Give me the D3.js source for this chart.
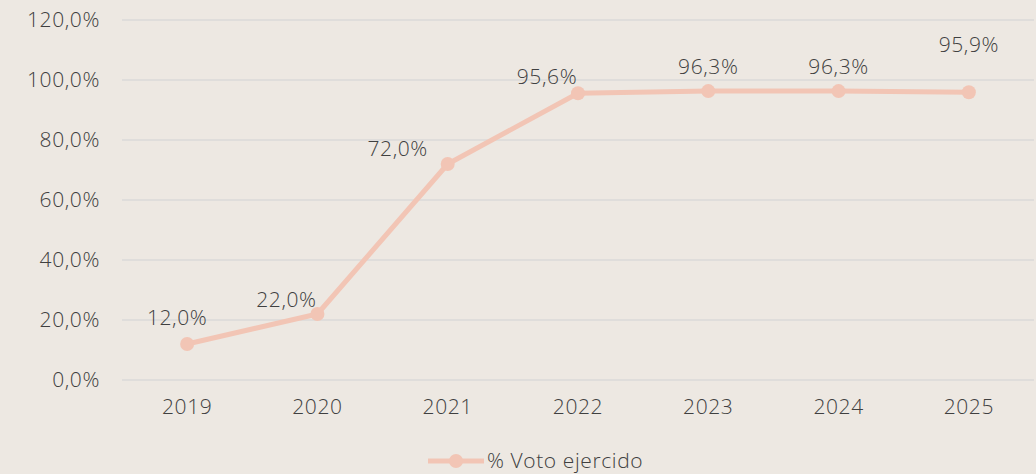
<!DOCTYPE html>
<html><head><meta charset="utf-8">
<script src="https://cdn.jsdelivr.net/npm/d3@7"></script>
<style>
html,body{margin:0;padding:0;background:#ede8e2;}
svg{display:block;}
text{font-family:"Open Sans","Noto Sans",sans-serif;font-weight:300;fill:#404040;letter-spacing:0.6px;}
</style></head>
<body><svg id="c" width="1036" height="474"></svg>
<script>
const years = ["2019","2020","2021","2022","2023","2024","2025"];
const votoEjercido = [12.0, 22.0, 72.0, 95.6, 96.3, 96.3, 95.9];
const yTicks = [0,20,40,60,80,100,120];
const seriesName = "% Voto ejercido";
// label offsets (dx, dy) relative to each point
const labelDx = [-10,-31,-50,-31,0,0,0];
const labelDy = [-25,-13,-14,-15,-23,-23,-46];

const svg = d3.select("#c");
const W = 1036, H = 474;
const m = {left:122, right:2, top:20, bottom:94};
const x = d3.scaleBand().domain(years).range([m.left, W - m.right]).padding(0);
const y = d3.scaleLinear().domain([0,120]).range([H - m.bottom, m.top]);
const fmt = v => d3.format(".1f")(v).replace(".", ",") + "%";
const FS = "21px";

svg.append("rect").attr("width",W).attr("height",H).attr("fill","#ede8e2");

// grid
svg.append("g").selectAll("line").data(yTicks).join("line")
  .attr("x1", m.left).attr("x2", W - m.right)
  .attr("y1", d=>y(d)).attr("y2", d=>y(d))
  .attr("stroke","#dadad8").attr("stroke-width",1.5);

// y axis
const ya = svg.append("g").attr("transform",`translate(${m.left},0)`)
  .call(d3.axisLeft(y).tickValues(yTicks).tickFormat(fmt).tickSize(0).tickPadding(22));
ya.select(".domain").remove();
ya.selectAll("text").style("font-size",FS).attr("fill","#404040").style("font-family",'"Open Sans",sans-serif').style("font-weight","300");

// x axis
const xa = svg.append("g").attr("transform",`translate(0,${y(0)})`)
  .call(d3.axisBottom(x).tickSize(0).tickPadding(19));
xa.select(".domain").remove();
xa.selectAll("text").style("font-size",FS).attr("fill","#404040").style("font-family",'"Open Sans",sans-serif').style("font-weight","300");

const color = "#f2c5b5";
const cx = (d,i) => x(years[i]) + x.bandwidth()/2;
const line = d3.line().x((d,i)=>cx(d,i)).y(d=>y(d));
svg.append("path").datum(votoEjercido).attr("d",line)
  .attr("fill","none").attr("stroke",color).attr("stroke-width",5).attr("stroke-linejoin","round");
svg.append("g").selectAll("circle").data(votoEjercido).join("circle")
  .attr("cx",cx).attr("cy",d=>y(d)).attr("r",7).attr("fill",color);

svg.append("g").selectAll("text").data(votoEjercido).join("text")
  .attr("x",(d,i)=>cx(d,i)+labelDx[i]).attr("y",(d,i)=>y(d)+labelDy[i])
  .attr("text-anchor","middle").attr("dominant-baseline","middle")
  .style("font-size",FS).text(fmt);

// legend
const lg = svg.append("g").attr("transform","translate(456,461)");
lg.append("line").attr("x1",-28).attr("x2",28).attr("y1",0).attr("y2",0)
  .attr("stroke",color).attr("stroke-width",5);
lg.append("circle").attr("r",7).attr("fill",color);
lg.append("text").attr("x",31).attr("y",1).attr("dominant-baseline","middle")
  .style("font-size",FS).text(seriesName);
</script></body></html>
